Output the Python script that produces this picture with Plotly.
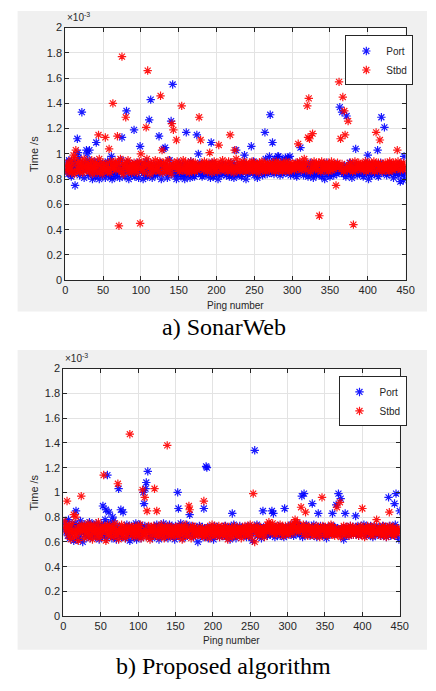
import plotly.graph_objects as go

# ---------------- data (time in units of 1e-5 s -> shown as x1e-3 s / 100) -------------
# a) SonarWeb, Port band
port_a = [
88,93,86,84,95,90,87,82,91,89,85,94,75,88,92,84,86,97,83,90,88,85,93,87,81,89,92,86,84,95,
83,87,90,85,92,80,88,86,94,82,89,91,84,87,80,93,86,88,83,90,85,92,81,89,87,94,84,86,91,82,
87,80,93,85,88,82,90,86,84,92,88,81,87,95,83,89,86,90,82,88,84,93,87,80,91,85,89,83,92,86,
88,82,90,85,87,93,81,89,84,92,86,88,80,91,85,83,94,87,82,90,86,89,84,92,81,88,85,90,83,87,
91,84,88,82,86,93,80,89,85,87,90,83,92,86,81,88,84,95,87,82,89,85,91,83,86,90,80,88,84,93,
85,89,82,87,91,84,86,80,92,88,83,90,85,87,81,94,86,89,83,88,82,91,85,87,90,80,86,93,84,88,
82,89,85,91,87,83,90,86,84,92,88,81,87,85,93,82,89,86,90,84,88,80,91,85,87,83,92,86,89,84,
87,91,83,88,85,90,82,86,93,84,89,87,81,92,85,88,83,90,86,84,91,87,82,89,85,93,86,88,80,90,
84,88,91,85,87,82,90,86,94,83,89,85,88,81,92,87,84,90,86,88,83,91,85,89,96,87,84,92,86,98,
88,85,93,87,90,84,96,89,86,92,85,98,88,83,91,87,95,84,90,86,97,88,85,92,87,89,94,83,90,86,
88,84,91,86,89,82,93,87,85,90,84,88,92,86,83,89,87,91,85,88,82,90,86,93,84,89,87,81,92,85,
88,83,90,86,89,84,92,87,82,91,85,88,80,89,86,93,84,87,90,82,88,85,91,86,83,89,87,92,84,88,
86,90,83,89,85,92,87,84,91,88,82,90,86,89,85,93,84,88,81,90,87,85,92,86,89,83,91,87,84,88,
90,85,88,82,91,86,89,84,93,87,80,90,85,88,83,92,86,89,84,87,91,85,88,82,90,86,93,84,89,87,
85,91,86,88,83,90,87,84,92,86,89,85,88,81,91,87,84,90,86,88,83,92,78,89,85,87,79,90,84,82]
# a) SonarWeb, Stbd band
stbd_a = [
87,91,89,93,85,90,88,95,86,92,89,84,97,90,87,93,88,91,86,94,89,92,85,90,96,88,91,87,93,89,
90,86,92,88,95,84,91,89,87,93,90,85,92,88,96,86,91,89,84,93,87,90,95,88,92,86,89,91,85,94,
88,92,86,90,89,94,87,91,85,93,89,88,96,86,90,92,84,89,91,87,93,88,95,86,90,89,92,85,91,88,
93,87,90,89,85,92,88,94,86,91,89,87,93,90,85,92,88,96,87,91,89,84,93,88,90,86,92,89,95,87,
90,88,92,86,94,89,91,87,85,93,88,90,92,86,89,95,87,91,88,84,92,90,86,93,89,91,87,94,88,90,
86,92,89,91,87,95,88,90,93,86,89,92,88,85,91,94,87,90,89,92,86,93,88,91,87,90,95,89,86,92,
89,91,87,94,88,90,92,86,89,93,87,91,88,85,92,90,94,87,89,91,86,93,88,90,92,87,89,95,88,91,
87,92,89,90,86,94,88,91,93,87,90,89,85,92,88,96,87,91,89,93,86,90,92,88,94,87,89,91,86,93,
90,88,92,87,91,89,94,86,90,93,88,91,87,92,89,85,93,90,88,94,87,91,89,92,86,90,93,88,91,87,
92,89,87,93,90,88,91,86,94,89,92,87,90,88,93,91,86,89,92,90,87,94,88,91,89,86,93,90,88,92,
89,91,87,90,93,88,92,86,89,94,90,87,91,88,92,96,89,87,93,90,88,91,95,86,92,89,90,88,94,91,
88,92,90,87,93,89,91,86,94,88,92,90,87,89,93,91,88,86,92,90,89,94,87,91,88,92,90,75,89,93,
91,87,90,93,88,92,89,86,91,94,88,90,87,92,89,91,93,88,90,86,92,89,94,87,91,88,90,93,89,92,
87,90,92,88,91,89,94,86,90,92,88,93,89,87,91,90,88,94,86,92,89,91,87,93,90,88,92,89,86,91,
90,88,93,87,91,89,92,86,94,90,88,91,87,93,89,92,88,90,86,94,91,89,87,92,90,88,93,89,91,87]
# a) outliers  (ping index -> value)
port_a_out = {15:112,16:101,21:133,27:103,28:100,31:103,40:109,60:98,74:113,80:134,90:119,
              98:106,110:127,112:143,123:114,129:104,131:105,139:126,141:155,159:117,
              173:115,175:100,192:109,225:103,236:99,245:106,263:117,270:131,273:109,
              280:98,294:97,296:98,310:105,362:137,365:133,371:130,383:104,399:99,
              412:103,417:129,421:121,447:98}
stbd_a_out = {10:99,13:103,43:115,52:113,57:104,62:140,68:114,70:43,74:177,79:129,98:45,
              99:100,106:121,108:166,125:146,127:103,140:124,142:119,146:111,153:138,
              176:129,178:111,190:101,202:107,217:115,223:103,307:108,319:138,320:113,
              321:144,322:112,326:116,335:51,361:157,363:112,366:145,368:134,369:115,
              373:126,380:44,410:117,415:111,438:103}

# b) Proposed algorithm, Port band
port_b = [
74,70,76,68,72,65,78,71,63,69,74,67,72,61,70,75,66,73,62,69,71,64,77,68,72,60,70,74,66,71,
69,73,65,71,76,63,70,68,74,66,72,69,64,75,70,67,73,62,71,68,74,65,70,72,66,78,69,63,71,75,
67,72,68,74,63,70,77,66,71,69,62,73,68,75,65,70,72,64,69,76,67,71,63,70,74,68,66,72,61,69,
73,67,70,65,72,68,75,62,70,71,66,74,69,63,72,67,70,60,73,68,65,71,76,64,69,72,67,70,63,71,
68,72,65,70,74,67,69,62,71,73,66,70,68,75,64,72,69,66,71,63,70,74,67,69,72,65,70,68,62,73,
70,66,72,69,64,71,75,67,70,63,68,72,66,70,74,65,69,71,62,68,73,67,70,64,72,69,66,71,68,60,
69,73,66,70,67,72,64,69,71,65,74,68,70,63,72,67,69,71,66,70,62,73,68,65,70,72,67,69,64,71,
68,70,65,72,67,69,73,64,70,66,71,68,62,72,69,65,70,74,67,69,63,71,68,70,66,73,69,65,71,67,
70,66,72,68,64,71,69,73,65,70,67,72,61,69,71,66,70,68,74,65,72,69,67,70,63,71,68,72,66,70,
72,68,65,71,69,74,66,70,73,67,69,71,64,72,68,70,66,73,69,65,71,67,70,72,64,69,71,66,70,68,
73,69,66,71,68,74,70,65,72,69,67,71,75,68,70,66,73,69,71,64,70,72,67,69,74,66,71,68,70,65,
69,72,66,70,74,67,71,68,64,72,69,66,71,73,67,70,65,72,68,71,69,63,70,72,66,69,71,67,73,68,
70,66,72,69,75,67,71,64,70,68,73,66,69,71,62,70,68,72,66,69,71,65,70,73,67,69,72,66,70,68,
71,67,69,73,65,70,72,68,66,71,69,74,67,70,65,72,68,69,71,66,73,67,70,64,71,69,72,66,70,68,
67,72,69,65,71,70,73,66,69,72,68,64,71,70,67,73,69,65,72,68,70,66,71,74,67,69,65,70,62,68]
# b) Proposed algorithm, Stbd band
stbd_b = [
77,72,69,74,66,71,65,73,68,62,70,75,67,72,64,69,80,66,71,61,73,68,70,65,74,69,72,63,70,67,
72,68,75,64,70,73,66,71,62,69,74,67,70,72,65,68,76,63,71,69,66,73,70,64,72,68,61,71,74,66,
69,73,65,70,68,72,64,71,75,67,70,66,73,62,69,71,68,74,65,70,67,72,63,69,71,66,70,73,64,68,
71,66,72,69,64,70,73,67,68,72,65,70,74,63,69,71,66,68,72,70,64,71,67,73,69,62,70,72,66,69,
73,68,70,65,71,67,72,64,69,70,74,66,71,68,63,72,69,67,70,73,65,68,71,66,72,69,64,70,67,72,
68,71,65,70,73,66,69,72,62,70,67,71,74,65,69,70,66,72,68,71,63,70,73,67,69,72,65,70,68,66,
70,67,72,69,65,71,68,73,64,70,66,69,72,67,71,63,70,68,74,66,69,71,65,72,68,70,67,73,64,69,
69,72,66,70,68,73,65,71,67,62,70,72,66,69,71,64,70,68,73,67,69,65,71,70,66,72,68,63,70,71,
67,70,73,65,69,72,66,70,68,74,64,71,69,67,72,60,70,68,73,66,71,69,65,72,68,70,67,71,64,69,
72,68,74,71,76,70,73,69,67,75,71,68,72,66,70,73,69,71,67,74,70,68,72,65,71,69,73,67,70,68,
66,71,69,74,72,70,67,73,75,78,72,69,76,71,68,73,70,67,72,69,74,66,71,68,70,73,65,72,69,71,
70,67,72,68,65,71,69,73,66,70,72,68,64,71,69,67,73,70,66,72,68,71,65,69,72,67,70,74,66,69,
72,68,65,71,69,73,66,70,68,72,64,71,69,67,73,70,66,68,72,69,71,65,70,73,67,69,72,66,70,68,
69,72,67,70,65,71,68,73,66,70,72,69,64,71,68,70,73,67,69,71,66,72,68,65,70,73,69,67,71,68,
70,67,72,69,65,71,68,73,66,70,72,64,69,71,67,70,73,68,66,71,69,72,65,70,68,67,71,69,70,68]
port_b_out = {16:85,52:89,56:86,58:114,60:84,65:80,73:103,76:86,79:84,106:100,107:91,109:103,
              110:108,112:117,152:100,153:87,168:82,187:87,190:121,191:120,225:83,255:134,
              266:85,278:85,280:83,295:87,318:97,321:99,332:91,340:83,359:83,364:90,
              367:99,370:95,376:83,390:81,434:96,442:91,444:99,449:85}
stbd_b_out = {4:93,13:82,23:97,53:114,72:107,88:147,105:102,108:96,111:85,121:103,124:85,
              138:138,167:89,168:86,187:93,253:99,317:88,323:84,345:96,365:88,369:92,
              399:87,418:78,435:84}

x_ticks = [0, 50, 100, 150, 200, 250, 300, 350, 400, 450]
y_ticks = [0, 0.2, 0.4, 0.6, 0.8, 1, 1.2, 1.4, 1.6, 1.8, 2]
y_tick_text = ["0", "0.2", "0.4", "0.6", "0.8", "1", "1.2", "1.4", "1.6", "1.8", "2"]
series_names = ["Port", "Stbd"]
captions = ["a) SonarWeb", "b) Proposed algorithm"]


def build(band, out):
    vals = list(band)
    for k, v in out.items():
        vals[k] = v
    return [v / 100 for v in vals]


pings = list(range(1, 451))
W, H = 436, 691
BLUE, RED = "#0000ff", "#ff0000"
SANS = "Liberation Sans, Arial"
TXT = "#262626"

fig = go.Figure()

panels = [
    dict(port=build(port_a, port_a_out), stbd=build(stbd_a, stbd_a_out),
         px=(64, 414), py=(22, 279), gray=(15, 5, 436, 311), leg=(352, 30),
         xt=305, cap=327, legend="legend"),
    dict(port=build(port_b, port_b_out), stbd=build(stbd_b, stbd_b_out),
         px=(62, 408), py=(369, 621), gray=(15, 350, 436, 655), leg=(345, 377),
         xt=646, cap=672, legend="legend2"),
]

def fx(p):
    return p / W

def fy(p):
    return 1 - p / H

shapes = []
annotations = []
for i, pn in enumerate(panels):
    sfx = "" if i == 0 else str(i + 1)
    xa, ya = "x" + sfx, "y" + sfx
    for name, col, key in [("Port", BLUE, "port"), ("Stbd", RED, "stbd")]:
        fig.add_trace(go.Scatter(
            x=pings, y=pn[key], mode="markers", name=name, xaxis=xa, yaxis=ya,
            legend=pn["legend"],
            marker=dict(symbol="asterisk-open", size=7, color=col, opacity=0.9,
                        line=dict(width=1.2, color=col)),
        ))
    axcommon = dict(showline=True, mirror="ticks", linecolor=TXT, linewidth=1,
                    ticks="inside", ticklen=4, tickcolor=TXT,
                    showgrid=True, gridcolor="#e3e3e3", gridwidth=1, zeroline=False,
                    tickfont=dict(family=SANS, size=11, color=TXT))
    fig.update_layout(**{
        "xaxis" + sfx: dict(domain=[fx(pn["px"][0]), fx(pn["px"][1])], range=[0, 450],
                            tickvals=x_ticks, anchor=ya, **axcommon),
        "yaxis" + sfx: dict(domain=[fy(pn["py"][1]), fy(pn["py"][0])], range=[0, 2],
                            tickvals=y_ticks, ticktext=y_tick_text, anchor=xa, **axcommon),
        pn["legend"]: dict(x=fx(pn["leg"][0]), y=fy(pn["leg"][1]), xanchor="left",
                           yanchor="top", bgcolor="white", bordercolor=TXT,
                           borderwidth=1, font=dict(family=SANS, size=10, color=TXT),
                           tracegroupgap=0, itemwidth=30),
    })
    g = pn["gray"]
    shapes.append(dict(type="rect", xref="paper", yref="paper", x0=fx(g[0]), x1=fx(g[2]),
                       y0=fy(g[3]), y1=fy(g[1]), fillcolor="#f0f0f0", line=dict(width=0),
                       layer="below"))
    shapes.append(dict(type="rect", xref="paper", yref="paper", x0=fx(pn["px"][0]),
                       x1=fx(pn["px"][1]), y0=fy(pn["py"][1]), y1=fy(pn["py"][0]),
                       fillcolor="white", line=dict(width=0), layer="below"))
    annotations.append(dict(text="×10<sup>-3</sup>", xref="paper", yref="paper",
                            x=fx(pn["px"][0]), y=fy(pn["py"][0] - 3), xanchor="left",
                            yanchor="bottom", showarrow=False,
                            font=dict(family=SANS, size=10, color=TXT)))
    annotations.append(dict(text="Ping number", xref="paper", yref="paper",
                            x=fx((pn["px"][0] + pn["px"][1]) / 2), y=fy(pn["xt"]),
                            xanchor="center", yanchor="middle", showarrow=False,
                            font=dict(family=SANS, size=10, color=TXT)))
    annotations.append(dict(text="Time /s", xref="paper", yref="paper", textangle=-90,
                            x=fx(32), y=fy((pn["py"][0] + pn["py"][1]) / 2),
                            xanchor="center", yanchor="middle", showarrow=False,
                            font=dict(family=SANS, size=11, color=TXT)))
    annotations.append(dict(text=captions[i], xref="paper", yref="paper",
                            x=fx(227), y=fy(pn["cap"]), xanchor="center", yanchor="middle",
                            showarrow=False,
                            font=dict(family="Liberation Serif, Times New Roman", size=24,
                                      color="black")))

fig.update_layout(width=W, height=H, margin=dict(l=0, r=0, t=0, b=0),
                  paper_bgcolor="white", plot_bgcolor="rgba(0,0,0,0)",
                  shapes=shapes, annotations=annotations, showlegend=True)

fig.write_html("out.html")
